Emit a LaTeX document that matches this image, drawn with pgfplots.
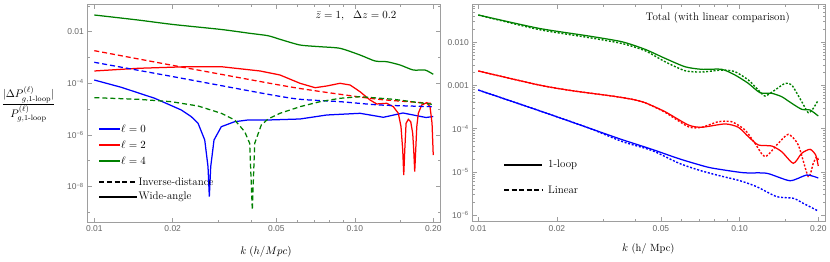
\documentclass[border=0pt]{standalone}
\usepackage{amsmath}
\usepackage{fontspec}
\usepackage{pgfplots}
\pgfplotsset{compat=1.18}
\newfontfamily\ticksf{Liberation Sans}
\definecolor{tickgray}{rgb}{0.40,0.40,0.40}
\definecolor{framegray}{rgb}{0.62,0.62,0.62}
\definecolor{dgreen}{rgb}{0,0.5,0}
\tikzset{
  mywa/.style={line width=1.25bp},
  myid/.style={line width=1.25bp, dash pattern=on 5bp off 3bp},
  mylin/.style={line width=1.4bp, dash pattern=on 2bp off 1.7bp},
}
\begin{document}
\begin{tikzpicture}
\useasboundingbox (0bp,0bp) rectangle (830bp,262bp);
% ---------------- left panel ----------------
\begin{loglogaxis}[scale only axis,
  axis line style={framegray, line width=0.7bp},
  every tick/.style={framegray, line width=0.6bp},
  major tick length=4.5bp, minor tick length=2.5bp,
  tick align=inside,
  ticklabel style={font=\ticksf\fontsize{8.5}{10}\selectfont, text=tickgray},
  xtick={0.01,0.02,0.05,0.1,0.2},
  xticklabels={0.01,0.02,0.05,0.10,0.20},
  minor xtick={0.03,0.04,0.06,0.07,0.08,0.09,0.15},
  at={(87.3bp,39.7bp)}, anchor=south west, width=353.4bp, height=218bp,
  xmin=0.0094, xmax=0.2136, ymin=4.09e-10, ymax=0.1153,
  ytick={1e-2,1e-4,1e-6,1e-8},
  yticklabels={0.01,10\textsuperscript{−4},10\textsuperscript{−6},10\textsuperscript{−8}},
  minor ytick={1e-1,1e-3,1e-5,1e-7,1e-9},
]
\addplot[mywa, blue] coordinates {(0.0100,1.34e-4)(0.01269,7.00e-5)(0.01706,2.62e-5)(0.02158,9.23e-6)(0.02357,5.07e-6)(0.02502,2.82e-6)(0.02654,6.34e-7)(0.02732,5.85e-8)(0.02764,4.03e-9)(0.02798,5.85e-8)(0.02881,6.34e-7)(0.03073,2.08e-6)(0.03459,3.25e-6)(0.03890,3.78e-6)(0.04644,3.78e-6)(0.06161,4.13e-6)(0.07801,5.90e-6)(0.1047,6.87e-6)(0.1144,5.90e-6)(0.1287,4.81e-6)(0.1531,7.06e-6)(0.1876,4.72e-6)(0.2000,5.16e-6)};
\addplot[mywa, red] coordinates {(0.0100,3.00e-4)(0.0147,3.81e-4)(0.0229,4.40e-4)(0.0307,4.40e-4)(0.0433,3.00e-4)(0.0516,2.10e-4)(0.0616,1.00e-4)(0.0704,6.75e-5)(0.0780,7.85e-5)(0.0877,1.00e-4)(0.0959,8.59e-5)(0.1047,4.72e-5)(0.1144,2.25e-5)(0.1214,1.58e-5)(0.1326,1.68e-5)(0.1405,1.24e-5)(0.1469,6.87e-6)(0.1504,2.08e-6)(0.1527,2.60e-7)(0.1541,2.79e-8)(0.1555,2.60e-7)(0.1573,2.82e-6)(0.1605,4.03e-6)(0.1639,3.25e-6)(0.1668,1.15e-6)(0.1683,2.60e-7)(0.1698,3.75e-8)(0.1713,2.60e-7)(0.1729,2.08e-6)(0.1753,6.87e-6)(0.1806,1.44e-5)(0.1888,1.77e-5)(0.1944,1.24e-5)(0.1979,2.82e-6)(0.2000,1.66e-7)};
\addplot[mywa, dgreen, smooth, tension=0.4] coordinates {(0.0100,4.44e-2)(0.0147,2.84e-2)(0.0201,1.90e-2)(0.0307,1.22e-2)(0.0395,8.67e-3)(0.0464,7.00e-3)(0.0516,5.07e-3)(0.0616,3.05e-3)(0.0735,2.62e-3)(0.0877,2.27e-3)(0.1047,1.25e-3)(0.1196,7.31e-4)(0.1326,6.87e-4)(0.1491,5.12e-4)(0.1677,3.27e-4)(0.1860,3.27e-4)(0.2000,2.23e-4)};
\addplot[myid, blue, smooth, tension=0.4] coordinates {(0.0100,6.52e-4)(0.02011,1.80e-4)(0.04644,3.75e-5)(0.06161,2.40e-5)(0.08773,1.94e-5)(0.1250,1.44e-5)(0.2000,1.24e-5)};
\addplot[myid, red, smooth, tension=0.4] coordinates {(0.0100,1.84e-3)(0.02011,4.90e-4)(0.04644,1.03e-4)(0.06161,6.28e-5)(0.08773,3.75e-5)(0.1250,2.36e-5)(0.2000,1.65e-5)};
\addplot[myid, dgreen] coordinates {(0.0100,2.77e-5)(0.01471,2.40e-5)(0.01975,1.94e-5)(0.02502,1.32e-5)(0.03073,6.87e-6)(0.03459,3.78e-6)(0.03779,1.33e-6)(0.03949,4.72e-7)(0.04041,1.23e-9)(0.04128,4.72e-7)(0.04375,2.42e-6)(0.04644,4.13e-6)(0.05163,6.87e-6)(0.06161,1.24e-5)(0.07353,1.94e-5)(0.08773,2.62e-5)(0.1047,3.03e-5)(0.1405,2.40e-5)(0.2000,1.51e-5)};
\end{loglogaxis}
% legend of the left panel
\begin{axis}[scale only axis, hide axis, clip=false,
  at={(87.3bp,39.7bp)}, anchor=south west, width=353.4bp, height=218bp,
  xmin=0, xmax=1, ymin=0, ymax=1]
\addplot[blue, line width=1.25bp] coordinates {(0.0345,0.428)(0.0926,0.428)};
\addplot[red, line width=1.25bp] coordinates {(0.0345,0.3546)(0.0926,0.3546)};
\addplot[dgreen, line width=1.25bp] coordinates {(0.0345,0.2812)(0.0926,0.2812)};
\addplot[black, line width=1.25bp, dash pattern=on 5bp off 2.6bp] coordinates {(0.0345,0.1849)(0.1393,0.1849)};
\addplot[black, line width=1.25bp] coordinates {(0.0345,0.1161)(0.1393,0.1161)};
\node[anchor=west, inner sep=0pt, font=\fontsize{11}{13}\selectfont] at (axis cs:0.0954,0.428) {$\ell=0$};
\node[anchor=west, inner sep=0pt, font=\fontsize{11}{13}\selectfont] at (axis cs:0.0954,0.3546) {$\ell=2$};
\node[anchor=west, inner sep=0pt, font=\fontsize{11}{13}\selectfont] at (axis cs:0.0954,0.2812) {$\ell=4$};
\node[anchor=west, inner sep=0pt, font=\fontsize{11}{13}\selectfont] at (axis cs:0.1449,0.1849) {Inverse-distance};
\node[anchor=west, inner sep=0pt, font=\fontsize{11}{13}\selectfont] at (axis cs:0.1449,0.1161) {Wide-angle};
\end{axis}
% ---------------- right panel ----------------
\begin{loglogaxis}[scale only axis,
  axis line style={framegray, line width=0.7bp},
  every tick/.style={framegray, line width=0.6bp},
  major tick length=4.5bp, minor tick length=2.5bp,
  tick align=inside,
  ticklabel style={font=\ticksf\fontsize{8.5}{10}\selectfont, text=tickgray},
  xtick={0.01,0.02,0.05,0.1,0.2},
  xticklabels={0.01,0.02,0.05,0.10,0.20},
  minor xtick={0.03,0.04,0.06,0.07,0.08,0.09,0.15},
  at={(472.3bp,40.3bp)}, anchor=south west, width=352.7bp, height=217.4bp,
  xmin=0.009485, xmax=0.2122, ymin=7.03e-7, ymax=0.0759,
  ytick={1e-2,1e-3,1e-4,1e-5,1e-6},
  yticklabels={0.010,0.001,10\textsuperscript{−4},10\textsuperscript{−5},10\textsuperscript{−6}},
  minor ytick={2e-6,3e-6,4e-6,5e-6,6e-6,7e-6,8e-6,9e-6,2e-5,3e-5,4e-5,5e-5,6e-5,7e-5,8e-5,9e-5,2e-4,3e-4,4e-4,5e-4,6e-4,7e-4,8e-4,9e-4,2e-3,3e-3,4e-3,5e-3,6e-3,7e-3,8e-3,9e-3,2e-2,3e-2,4e-2,5e-2,6e-2,7e-2},
]
\addplot[mylin, dgreen, smooth, tension=0.4] coordinates {(0.0100,4.29e-2)(0.01703,1.98e-2)(0.02646,1.29e-2)(0.03548,9.38e-3)(0.04345,6.40e-3)(0.05182,3.56e-3)(0.06180,2.20e-3)(0.07161,2.05e-3)(0.08543,2.28e-3)(0.09603,2.09e-3)(0.1080,1.34e-3)(0.1179,7.87e-4)(0.1251,5.71e-4)(0.1366,7.87e-4)(0.1492,1.12e-3)(0.1583,1.03e-3)(0.1729,4.22e-4)(0.1832,2.34e-4)(0.1914,2.96e-4)(0.2000,4.61e-4)};
\addplot[mylin, red, smooth, tension=0.4] coordinates {(0.0100,2.17e-3)(0.01703,1.03e-3)(0.02284,7.59e-4)(0.03249,5.71e-4)(0.03874,4.80e-4)(0.04345,4.00e-4)(0.05182,2.40e-4)(0.06364,1.11e-4)(0.07161,1.08e-4)(0.08289,1.45e-4)(0.09327,1.45e-4)(0.1049,9.33e-5)(0.1145,4.59e-5)(0.1251,2.25e-5)(0.1406,4.59e-5)(0.1536,7.41e-5)(0.1677,4.20e-5)(0.1832,7.74e-6)(0.1914,1.58e-5)(0.1973,2.25e-5)(0.2000,1.88e-5)};
\addplot[mylin, blue, smooth, tension=0.4] coordinates {(0.0100,7.87e-4)(0.01703,2.64e-4)(0.02646,1.04e-4)(0.03548,5.06e-5)(0.04621,3.13e-5)(0.05828,1.61e-5)(0.06950,1.11e-5)(0.08172,8.47e-6)(0.1003,6.25e-6)(0.1163,4.54e-6)(0.1387,2.67e-6)(0.1606,2.45e-6)(0.1753,1.87e-6)(0.2000,1.24e-6)};
\addplot[mywa, dgreen, smooth, tension=0.4] coordinates {(0.0100,4.29e-2)(0.01703,2.11e-2)(0.02646,1.40e-2)(0.03548,1.03e-2)(0.04345,6.89e-3)(0.05182,4.26e-3)(0.06180,2.72e-3)(0.07161,2.37e-3)(0.08543,2.37e-3)(0.09603,1.75e-3)(0.1080,1.12e-3)(0.1197,6.81e-4)(0.1327,6.59e-4)(0.1449,5.51e-4)(0.1583,3.87e-4)(0.1729,2.81e-4)(0.1860,2.71e-4)(0.2000,1.97e-4)};
\addplot[mywa, red, smooth, tension=0.4] coordinates {(0.0100,2.17e-3)(0.01703,1.03e-3)(0.02284,7.59e-4)(0.03249,5.71e-4)(0.03874,4.80e-4)(0.04345,4.00e-4)(0.05182,2.48e-4)(0.06364,1.22e-4)(0.07161,1.08e-4)(0.08794,1.29e-4)(0.09886,1.08e-4)(0.1080,6.53e-5)(0.1179,4.20e-5)(0.1327,3.98e-5)(0.1449,2.94e-5)(0.1606,1.58e-5)(0.1729,2.70e-5)(0.1860,3.33e-5)(0.1955,2.46e-5)(0.2000,1.37e-5)};
\addplot[mywa, blue, smooth, tension=0.4] coordinates {(0.0100,7.87e-4)(0.01703,2.64e-4)(0.02646,1.04e-4)(0.03538,5.62e-5)(0.04621,3.33e-5)(0.05828,2.04e-5)(0.06950,1.48e-5)(0.07823,1.23e-5)(0.1033,9.58e-6)(0.1270,9.29e-6)(0.1559,6.25e-6)(0.1806,8.47e-6)(0.2000,7.23e-6)};
\end{loglogaxis}
% legend of the right panel
\begin{axis}[scale only axis, hide axis, clip=false,
  at={(472.3bp,40.3bp)}, anchor=south west, width=352.7bp, height=217.4bp,
  xmin=0, xmax=1, ymin=0, ymax=1]
\addplot[black, line width=1.25bp] coordinates {(0.0899,0.2608)(0.1968,0.2608)};
\addplot[black, line width=1.25bp, dash pattern=on 5bp off 2.5bp] coordinates {(0.0899,0.1458)(0.1968,0.1458)};
\node[anchor=west, inner sep=0pt, font=\fontsize{11}{13}\selectfont] at (axis cs:0.2146,0.2608) {1-loop};
\node[anchor=west, inner sep=0pt, font=\fontsize{11}{13}\selectfont] at (axis cs:0.2146,0.1458) {Linear};
\end{axis}
% ---------------- texts ----------------
\node[font=\fontsize{11}{13}\selectfont] at (356bp,246.3bp) {$\bar{z}=1,\ \ \Delta z=0.2$};
\node[font=\fontsize{11}{13}\selectfont] at (717.7bp,244.7bp) {Total (with linear comparison)};
\node[font=\fontsize{10.5}{12}\selectfont] at (266bp,10bp) {$k\;(h/Mpc)$};
\node[font=\fontsize{10.5}{12}\selectfont] at (648.3bp,12.7bp) {$k$ (h/ Mpc)};
\node[font=\fontsize{11}{13}\selectfont] at (28.5bp,157.7bp) {$\dfrac{|\Delta P^{(\ell)}_{g,\text{1-loop}}|}{P^{(\ell)}_{g,\text{1-loop}}}$};
\end{tikzpicture}
\end{document}
